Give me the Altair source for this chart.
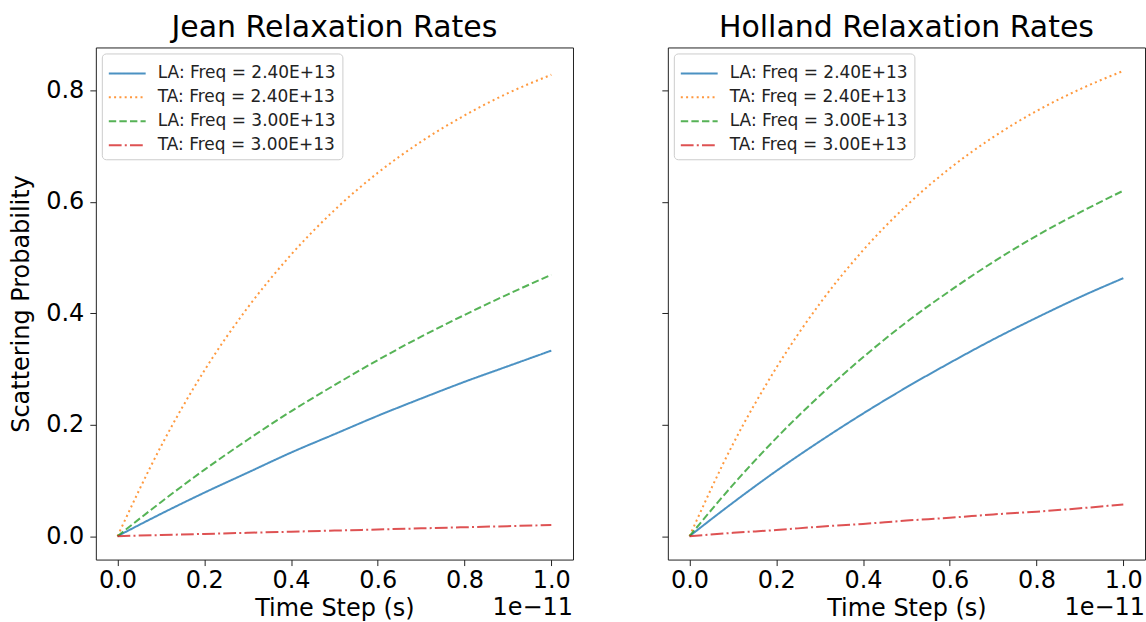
import altair as alt
import pandas as pd

# time in units of 1e-11 s
t = [0.0, 0.1, 0.2, 0.3, 0.4, 0.5, 0.6, 0.7, 0.8, 0.9, 1.0]

series = ["LA: Freq = 2.40E+13", "TA: Freq = 2.40E+13",
          "LA: Freq = 3.00E+13", "TA: Freq = 3.00E+13"]

jean_la_24 = [0.0, 0.040, 0.078, 0.114, 0.150, 0.183, 0.216, 0.247, 0.277, 0.305, 0.333]
jean_ta_24 = [0.0, 0.161, 0.297, 0.410, 0.505, 0.585, 0.652, 0.708, 0.755, 0.795, 0.828]
jean_la_30 = [0.0, 0.061, 0.119, 0.173, 0.224, 0.271, 0.316, 0.358, 0.397, 0.434, 0.469]
jean_ta_30 = [0.0, 0.002, 0.004, 0.006, 0.008, 0.010, 0.012, 0.014, 0.016, 0.018, 0.020]

holl_la_24 = [0.0, 0.060, 0.117, 0.170, 0.220, 0.267, 0.311, 0.353, 0.392, 0.429, 0.463]
holl_ta_24 = [0.0, 0.165, 0.302, 0.417, 0.513, 0.593, 0.660, 0.716, 0.763, 0.802, 0.835]
holl_la_30 = [0.0, 0.092, 0.176, 0.252, 0.321, 0.384, 0.440, 0.492, 0.539, 0.581, 0.620]
holl_ta_30 = [0.0, 0.006, 0.011, 0.017, 0.022, 0.028, 0.033, 0.039, 0.044, 0.050, 0.057]

x_ticks = [0.0, 0.2, 0.4, 0.6, 0.8, 1.0]
y_ticks = [0.0, 0.2, 0.4, 0.6, 0.8]

colors = ["#1f77b4", "#ff7f0e", "#2ca02c", "#d62728"]
dashes = [[1, 0], [2, 3.3], [7.4, 3.2], [12.8, 3.2, 2, 3.2]]

FONT = "DejaVu Sans"
W, H = 478, 513


def panel(title, lists, show_y):
    rows = []
    for i, (name, vals) in enumerate(zip(series, lists)):
        for ti, v in zip(t, vals):
            rows.append({"t": ti, "p": v, "s": name, "o": i})
    df = pd.DataFrame(rows)
    leg = alt.Legend(title=None, orient="top-left", offset=6,
                     symbolType="M-1,0H1.84", symbolSize=676,
                     symbolStrokeWidth=2, symbolOpacity=0.8,
                     labelFontSize=17, labelFont=FONT, labelColor="#222222",
                     labelLimit=400, labelOffset=22, padding=6,
                     fillColor="white", strokeColor="#cccccc", cornerRadius=4)
    yaxis = alt.Axis(values=y_ticks, format=".1f", title="Scattering Probability",
                     labelPadding=6, titlePadding=12) if show_y else \
        alt.Axis(values=y_ticks, labels=False, title=None)
    lines = alt.Chart(df).mark_line(strokeWidth=2, opacity=0.8, interpolate="monotone").encode(
        x=alt.X("t:Q", scale=alt.Scale(domain=[-0.05, 1.05], nice=False, zero=False),
                axis=alt.Axis(values=x_ticks, format=".1f", title="Time Step (s)",
                              labelPadding=3, titlePadding=4)),
        y=alt.Y("p:Q", scale=alt.Scale(domain=[-0.042, 0.877], nice=False, zero=False),
                axis=yaxis),
        color=alt.Color("s:N", scale=alt.Scale(domain=series, range=colors), legend=leg),
        strokeDash=alt.StrokeDash("s:N", scale=alt.Scale(domain=series, range=dashes), legend=leg),
        order="o:Q",
    )
    off = alt.Chart(pd.DataFrame({"txt": ["1e\u221211"]})).mark_text(
        align="right", baseline="middle", fontSize=24, font=FONT, color="black"
    ).encode(text="txt:N", x=alt.value(W), y=alt.value(562))
    return alt.layer(lines, off).properties(
        width=W, height=H, title=alt.TitleParams(title, anchor="middle")
    ).resolve_scale(color="independent", strokeDash="independent")


left = panel("Jean Relaxation Rates", [jean_la_24, jean_ta_24, jean_la_30, jean_ta_30], True)
right = panel("Holland Relaxation Rates", [holl_la_24, holl_ta_24, holl_la_30, holl_ta_30], False)

chart = alt.hconcat(left, right, spacing=95, bounds="flush").resolve_scale(
    color="independent", strokeDash="independent"
).resolve_legend(color="independent", strokeDash="independent").properties(
    padding={"left": 9, "top": 12, "right": 0, "bottom": 0},
).configure_view(stroke="#222222", strokeWidth=1).configure_axis(
    grid=False, domain=False, tickColor="#222222", tickSize=6, tickWidth=1,
    labelFontSize=24, titleFontSize=24, labelFont=FONT, titleFont=FONT,
    labelColor="black", titleColor="black", titleFontWeight="normal",
).configure_title(fontSize=30, font=FONT, fontWeight="normal", color="black", offset=4)

chart.save("out.html", embed_options={"renderer": "svg", "actions": False})
